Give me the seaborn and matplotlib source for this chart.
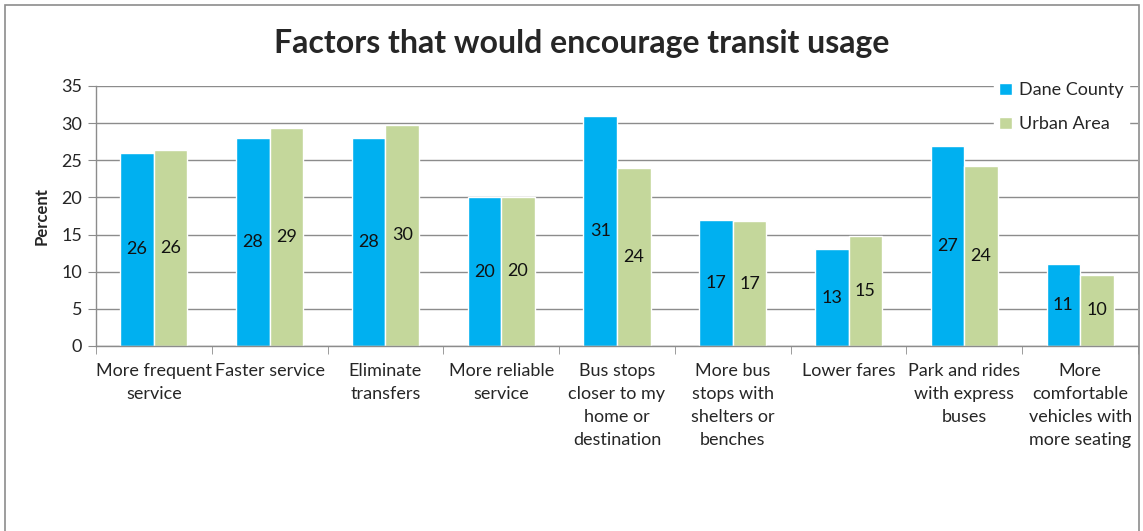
import matplotlib
matplotlib.use("Agg")
import matplotlib.pyplot as plt
import seaborn as sns
import pandas as pd
from matplotlib.patches import Rectangle

categories = [
    "More frequent\nservice",
    "Faster service",
    "Eliminate\ntransfers",
    "More reliable\nservice",
    "Bus stops\ncloser to my\nhome or\ndestination",
    "More bus\nstops with\nshelters or\nbenches",
    "Lower fares",
    "Park and rides\nwith express\nbuses",
    "More\ncomfortable\nvehicles with\nmore seating",
]
dane_county = [26.0, 28.0, 28.0, 20.0, 31.0, 17.0, 13.0, 26.9, 11.0]
urban_area = [26.4, 29.4, 29.8, 20.1, 24.0, 16.8, 14.8, 24.2, 9.6]
series_names = ["Dane County", "Urban Area"]
y_ticks = [0, 5, 10, 15, 20, 25, 30, 35]

df = pd.DataFrame({
    "category": categories * 2,
    "value": dane_county + urban_area,
    "series": [series_names[0]] * len(categories) + [series_names[1]] * len(categories),
})

sns.set_style("white")
plt.rcParams["font.family"] = ["Lato", "DejaVu Sans"]

fig = plt.figure(figsize=(11.43, 5.31), dpi=100)
ax = fig.add_axes([96 / 1143, 1 - 346 / 531, (1138 - 96) / 1143, (346 - 86) / 531])

colors = {"Dane County": "#00B0F0", "Urban Area": "#C4D79B"}
sns.barplot(data=df, x="category", y="value", hue="series", palette=colors,
            width=0.58, gap=0, saturation=1, ax=ax, legend=True)

ax.set_ylim(0, 35)
ax.set_yticks(y_ticks)
ax.set_xlim(-0.5, len(categories) - 0.5)
ax.yaxis.grid(True, color="#8c8c8c", linewidth=1)
ax.set_axisbelow(True)

for cont in ax.containers:
    labels = [f"{round(v.get_height()):d}" for v in cont]
    ax.bar_label(cont, labels=labels, label_type="center", fontsize=13, color="#111111")

for s in ["top", "right"]:
    ax.spines[s].set_visible(False)
for s in ["left", "bottom"]:
    ax.spines[s].set_color("#8c8c8c")
    ax.spines[s].set_linewidth(1)

ax.set_xticks(range(len(categories)))
ax.set_xticklabels(categories, fontsize=13, va="top", linespacing=1.55)
ax.tick_params(axis="x", length=0, pad=12)
# category boundary ticks
ax.set_xticks([i - 0.5 for i in range(len(categories) + 1)], minor=True)
ax.tick_params(axis="x", which="minor", length=6, color="#8c8c8c", direction="out", bottom=True)
ax.tick_params(axis="y", length=6, color="#8c8c8c", direction="out", left=True, labelsize=13, pad=4)

ax.set_xlabel("")
ax.set_ylabel("Percent", fontsize=12, fontweight="bold", labelpad=8)

leg = ax.legend(loc="upper left", bbox_to_anchor=(0.853, 1.07), frameon=True, fontsize=13,
                handlelength=0.7, handleheight=0.7, labelspacing=1.0, borderpad=0.3,
                handletextpad=0.4, fancybox=False)
leg.get_frame().set_edgecolor("white")
leg.get_frame().set_facecolor("white")
leg.get_frame().set_alpha(1)

fig.suptitle("Factors that would encourage transit usage", x=582 / 1143, y=1 - 44 / 531,
             va="center", fontsize=23, fontweight="bold")

fig.patches.append(Rectangle((5 / 1143, -0.02), (1139 - 5) / 1143, 1 - 5 / 531 + 0.02,
                             transform=fig.transFigure, fill=False, edgecolor="#8c8c8c",
                             linewidth=1.2))

fig.savefig("out.png", dpi=100)
